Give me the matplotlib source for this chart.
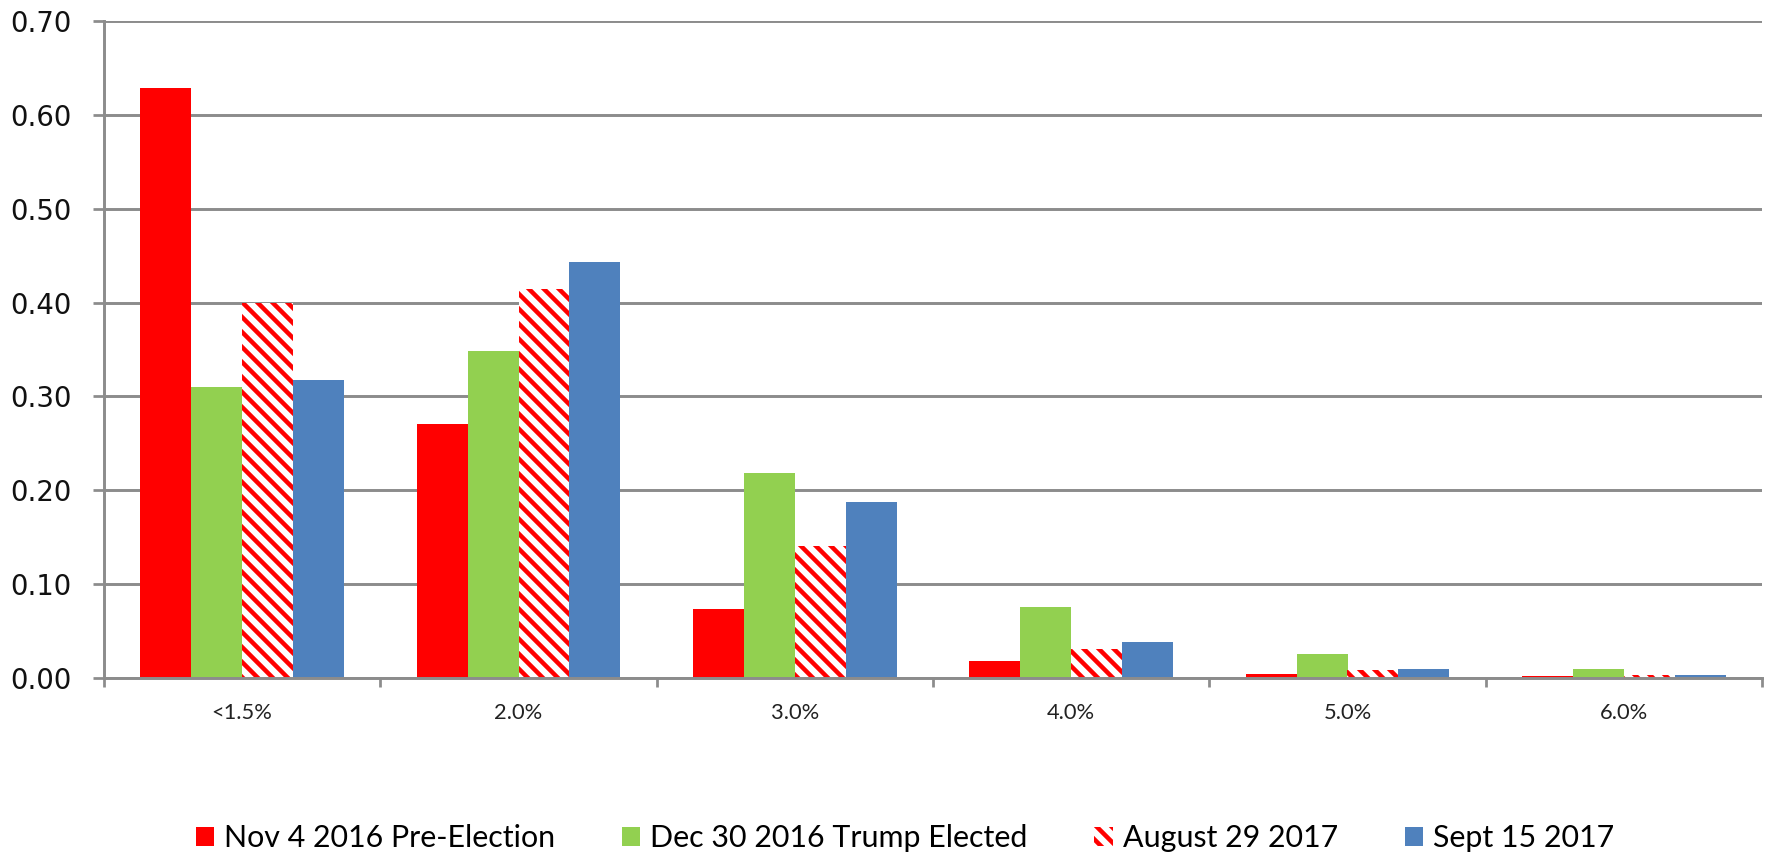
import matplotlib
matplotlib.use("Agg")
import matplotlib.pyplot as plt
import numpy as np

# Probability of each fed-funds outcome, by snapshot date
categories = ["<1.5%", "2.0%", "3.0%", "4.0%", "5.0%", "6.0%"]
nov_2016 = [0.629, 0.271, 0.074, 0.018, 0.0046, 0.0021]
dec_2016 = [0.310, 0.348, 0.218, 0.076, 0.0258, 0.0100]
aug_2017 = [0.400, 0.414, 0.141, 0.0305, 0.0089, 0.0032]
sep_2017 = [0.317, 0.443, 0.187, 0.0387, 0.0092, 0.0035]

series_labels = ["Nov 4 2016 Pre-Election", "Dec 30 2016 Trump Elected",
                 "August 29 2017", "Sept 15 2017"]
y_ticks = [0.0, 0.1, 0.2, 0.3, 0.4, 0.5, 0.6, 0.7]

DPI = 90
W, H = 1771, 856
plt.rcParams["hatch.linewidth"] = 3.6
fig = plt.figure(figsize=(W / DPI, H / DPI), dpi=DPI)
ax = fig.add_axes([104 / W, 1 - 678 / H, (1762 - 104) / W, (678 - 21) / H])

grid_col = "#8c8c8c"
x = np.arange(len(categories))
w = 0.184
offsets = np.array([-1.5, -0.5, 0.5, 1.5]) * w

ax.bar(x + offsets[0], nov_2016, w, color="#FF0000", linewidth=0, label=series_labels[0], zorder=3)
ax.bar(x + offsets[1], dec_2016, w, color="#92D050", linewidth=0, label=series_labels[1], zorder=3)
ax.bar(x + offsets[2], aug_2017, w, facecolor="white", edgecolor="#FF0000", hatch="\\\\",
       linewidth=0, label=series_labels[2], zorder=3)
ax.bar(x + offsets[3], sep_2017, w, color="#4F81BD", linewidth=0, label=series_labels[3], zorder=3)

ax.set_xlim(-0.5, len(categories) - 0.5)
ax.set_ylim(0, 0.7)

ax.set_yticks(y_ticks)
ax.set_yticklabels([f"{v:.2f}" for v in y_ticks], fontsize=22, family="DejaVu Sans", color="#111111")
ax.tick_params(axis="y", length=8.8, width=2.2, color=grid_col, pad=17)

ax.set_xticks(x)
ax.set_xticklabels(categories, fontsize=17.5, family="Lato", color="#222222")
ax.set_xticks(np.arange(len(categories) + 1) - 0.5, minor=True)
ax.tick_params(axis="x", which="major", length=0, pad=20)
ax.tick_params(axis="x", which="minor", length=7.3, width=2.2, color=grid_col)

ax.yaxis.grid(True, color=grid_col, linewidth=2.35, zorder=0)
ax.set_axisbelow(True)
for side in ("top", "right"):
    ax.spines[side].set_visible(False)
for side in ("left", "bottom"):
    ax.spines[side].set_color(grid_col)
    ax.spines[side].set_linewidth(2.35)
    ax.spines[side].set_zorder(4)

fig.legend(loc="center", bbox_to_anchor=(905 / W, 1 - 838 / H), ncol=4, frameon=False,
           prop={"family": "Lato", "size": 24.3}, handlelength=0.6, handleheight=0.6,
           handletextpad=0.33, columnspacing=2.2, borderaxespad=0)

fig.savefig("out.png", dpi=DPI)
